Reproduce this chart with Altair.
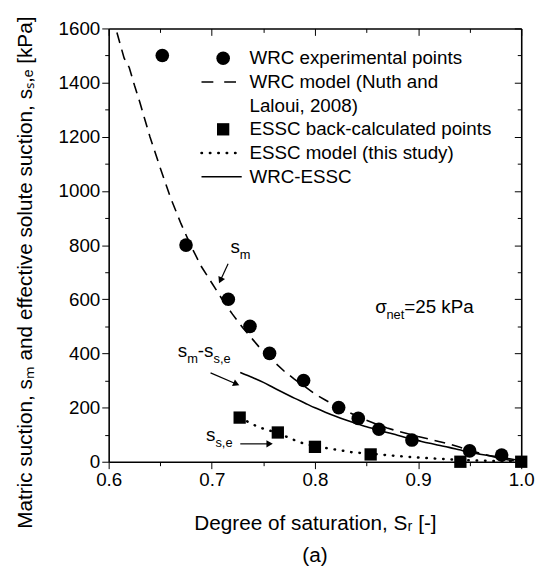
import math
import altair as alt
import pandas as pd

# ---------------- data ----------------
WRC_EXP_SR = [0.652, 0.675, 0.716, 0.737, 0.756, 0.789, 0.823, 0.842, 0.862, 0.894, 0.950, 0.981]
WRC_EXP_S = [1500, 800, 600, 500, 400, 300, 200, 160, 120, 80, 40, 25]

ESSC_PTS_SR = [0.727, 0.764, 0.800, 0.854, 0.941, 1.000]
ESSC_PTS_S = [163, 108, 55, 27, 0, 0]

WRC_MODEL_SR = [0.608, 0.615, 0.620, 0.625, 0.630, 0.635, 0.640, 0.650, 0.660, 0.670, 0.680,
                0.690, 0.700, 0.710, 0.720, 0.730, 0.740, 0.750, 0.760, 0.770, 0.780, 0.790,
                0.800, 0.810, 0.820, 0.830, 0.840, 0.850, 0.860, 0.870, 0.880, 0.890, 0.900,
                0.910, 0.920, 0.930, 0.940, 0.950, 0.960, 0.970, 0.980, 0.990, 1.000]
WRC_MODEL_S = [1585, 1490, 1455, 1390, 1330, 1265, 1200, 1085, 975, 880, 795,
               720, 660, 600, 545, 495, 450, 405, 370, 335, 305, 278,
               250, 228, 207, 188, 170, 153, 138, 125, 113, 103, 93,
               84, 75, 66, 54, 42, 31, 21, 12, 5, 0]

WRC_ESSC_SR = [0.7276, 0.740, 0.750, 0.760, 0.770, 0.780, 0.790, 0.800, 0.810, 0.820, 0.830,
               0.840, 0.850, 0.860, 0.870, 0.880, 0.890, 0.900, 0.910, 0.920, 0.930, 0.940,
               0.950, 0.960, 0.970, 0.980, 0.990, 1.000]
WRC_ESSC_S = [330, 310, 293, 273, 254, 235, 217, 199, 183, 168, 154,
              141, 129, 119, 108, 98, 87, 78, 69, 61, 53, 44,
              35, 28, 22, 17, 10, 4]

ESSC_MODEL_SR = [0.727, 0.745, 0.764, 0.785, 0.800, 0.815, 0.836, 0.865, 0.893, 0.919, 0.940, 0.970, 1.000]
ESSC_MODEL_S = [163, 128, 106, 72, 57, 48, 35, 26, 17, 11, 7, 3, 0]

LEGEND_LABELS = ["WRC experimental points", "WRC model (Nuth and", "Laloui, 2008)",
                 "ESSC back-calculated points", "ESSC model (this study)", "WRC-ESSC"]

X_TICKS_MAJOR = [0.6, 0.7, 0.8, 0.9, 1.0]
X_TICKS_MINOR = [0.65, 0.75, 0.85, 0.95]
Y_TICKS_MAJOR = [0, 200, 400, 600, 800, 1000, 1200, 1400, 1600]
Y_TICKS_MINOR = [100, 300, 500, 700, 900, 1100, 1300, 1500]

X_TITLE = "Degree of saturation, Sᵣ [-]"
Y_TITLE = "Matric suction, sₘ and effective solute suction, sₛ,ₑ [kPa]"
PANEL_LABEL = "(a)"

# annotation texts: anchor (Sr, s) and pieces (text, is_subscript)
ANNOTATIONS = [
    (0.718, 769, [("s", False), ("m", True)]),
    (0.667, 385, [("s", False), ("m", True), ("-s", False), ("s,e", True)]),
    (0.6944, 75, [("s", False), ("s,e", True)]),
    (0.8584, 550, [("σ", False), ("net", True), ("=25 kPa", False)]),
]
ARROWS = [((0.7158, 731), (0.7069, 658)),
          ((0.6988, 328), (0.7269, 282)),
          ((0.7276, 66), (0.7594, 66))]

# ---------------- layout / style ----------------
W, H = 418, 439
X_DOMAIN = [0.6, 1.0]
Y_DOMAIN = [0, 1600]
FONT = "Liberation Sans"
FS = 19
FS_SUB = 13
FS_TITLE = 21
PX_X = W / (X_DOMAIN[1] - X_DOMAIN[0])
PX_Y = H / (Y_DOMAIN[1] - Y_DOMAIN[0])

xs = alt.Scale(domain=X_DOMAIN, nice=False, zero=False)
ys = alt.Scale(domain=Y_DOMAIN, nice=False, zero=False)

EM = {'s': 0.5, 'm': 0.833, '-': 0.333, ',': 0.278, 'e': 0.556, 'n': 0.556, 't': 0.278,
      '=': 0.584, '2': 0.556, '5': 0.556, ' ': 0.278, 'k': 0.5, 'P': 0.667, 'a': 0.556, 'σ': 0.6}


def text_w(txt, size):
    return sum(EM.get(c, 0.55) for c in txt) * size


def X(field="x"):
    return alt.X(f"{field}:Q", scale=xs, axis=None)


def Y(field="y"):
    return alt.Y(f"{field}:Q", scale=ys, axis=None)


layers = []

# ---- axes (independent axis layers sharing the scales) ----
dummy = pd.DataFrame({"x": [X_DOMAIN[0]], "y": [Y_DOMAIN[0]]})
common = dict(grid=False, tickColor="black", tickWidth=1)
nodomain = dict(domain=False, **common)
frame = dict(domain=True, domainColor="black", domainWidth=1.6, ticks=False, labels=False,
             title=None, grid=False)


def axis_layer(ax, ay):
    return alt.Chart(dummy).mark_point(opacity=0).encode(
        x=alt.X("x:Q", scale=xs, axis=ax), y=alt.Y("y:Q", scale=ys, axis=ay))


bottom_major = alt.Axis(orient="bottom", values=X_TICKS_MAJOR, format=".1f", tickSize=7,
                        labelFont=FONT, labelFontSize=FS, labelColor="black", labelPadding=2,
                        labelFlush=False, labelOverlap=False,
                        title=X_TITLE, titleFont=FONT, titleFontSize=FS_TITLE,
                        titleFontWeight="normal", titleColor="black",
                        titleX=W / 2, titleY=69, titleBaseline="alphabetic", titleAlign="center",
                        **nodomain)
left_major = alt.Axis(orient="left", values=Y_TICKS_MAJOR, format="d", tickSize=7,
                      labelFont=FONT, labelFontSize=FS, labelColor="black", labelPadding=2,
                      labelOverlap=False, labelFlush=False,
                      title=Y_TITLE, titleFont=FONT, titleFontSize=FS_TITLE,
                      titleFontWeight="normal", titleColor="black", titleAngle=270,
                      titleX=-78, titleY=247, titleBaseline="alphabetic", titleAlign="center",
                      **nodomain)
bottom_minor = alt.Axis(orient="bottom", values=X_TICKS_MINOR, tickSize=4, labels=False,
                        title=None, **nodomain)
left_minor = alt.Axis(orient="left", values=Y_TICKS_MINOR, tickSize=4, labels=False,
                      title=None, **nodomain)
top_major = alt.Axis(orient="top", values=X_TICKS_MAJOR, tickSize=7, offset=-7, labels=False,
                     title=None, **nodomain)
right_major = alt.Axis(orient="right", values=Y_TICKS_MAJOR, tickSize=7, offset=-7, labels=False,
                       title=None, **nodomain)
top_minor = alt.Axis(orient="top", values=X_TICKS_MINOR, tickSize=4, offset=-4, labels=False,
                     title=None, **nodomain)
right_minor = alt.Axis(orient="right", values=Y_TICKS_MINOR, tickSize=4, offset=-4, labels=False,
                       title=None, **nodomain)
frame_bl = (alt.Axis(orient="bottom", **frame), alt.Axis(orient="left", **frame))
frame_tr = (alt.Axis(orient="top", **frame), alt.Axis(orient="right", **frame))

layers += [axis_layer(bottom_major, left_major), axis_layer(bottom_minor, left_minor),
           axis_layer(top_major, right_major), axis_layer(top_minor, right_minor),
           axis_layer(*frame_bl), axis_layer(*frame_tr)]

# ---- curves ----
wrc_model = pd.DataFrame({"x": WRC_MODEL_SR, "y": WRC_MODEL_S})
wrc_essc = pd.DataFrame({"x": WRC_ESSC_SR, "y": WRC_ESSC_S})
essc_model = pd.DataFrame({"x": ESSC_MODEL_SR, "y": ESSC_MODEL_S})

DASH = [11, 7]
DOT = [0.5, 8]
layers.append(alt.Chart(wrc_model).mark_line(color="black", strokeWidth=1.6, strokeDash=DASH)
              .encode(x=X(), y=Y()))
layers.append(alt.Chart(wrc_essc).mark_line(color="black", strokeWidth=1.6, interpolate="monotone")
              .encode(x=X(), y=Y()))
layers.append(alt.Chart(essc_model).mark_line(color="black", strokeWidth=2.5, strokeDash=DOT,
                                              strokeCap="round")
              .encode(x=X(), y=Y()))

# ---- points ----
wrc_exp = pd.DataFrame({"x": WRC_EXP_SR, "y": WRC_EXP_S})
essc_pts = pd.DataFrame({"x": ESSC_PTS_SR, "y": ESSC_PTS_S})
layers.append(alt.Chart(wrc_exp).mark_point(shape="circle", filled=True, size=190, color="black",
                                            opacity=1).encode(x=X(), y=Y()))
layers.append(alt.Chart(essc_pts).mark_point(shape="square", filled=True, size=155, color="black",
                                             opacity=1).encode(x=X(), y=Y()))

# ---- legend (drawn in data coordinates) ----
LEG_S0, LEG_STEP = 1490, 87.5
LEG_SYM_X, LEG_LINE_X0, LEG_LINE_X1, LEG_TEXT_X = 0.711, 0.690, 0.729, 0.7365
rows = [LEG_S0 - i * LEG_STEP for i in range(len(LEGEND_LABELS))]

leg_text = pd.DataFrame({"x": [LEG_TEXT_X] * len(LEGEND_LABELS), "y": rows, "t": LEGEND_LABELS})
layers.append(alt.Chart(leg_text).mark_text(align="left", baseline="middle", font=FONT,
                                            fontSize=FS, color="black")
              .encode(x=X(), y=Y(), text="t:N"))
layers.append(alt.Chart(pd.DataFrame({"x": [LEG_SYM_X], "y": [rows[0]]}))
              .mark_point(shape="circle", filled=True, size=190, color="black", opacity=1)
              .encode(x=X(), y=Y()))
layers.append(alt.Chart(pd.DataFrame({"x": [LEG_SYM_X], "y": [rows[3]]}))
              .mark_point(shape="square", filled=True, size=155, color="black", opacity=1)
              .encode(x=X(), y=Y()))
for r, dash, sw in [(rows[1], [12, 11], 1.6), (rows[4], DOT, 2.5), (rows[5], None, 1.6)]:
    kw = dict(color="black", strokeWidth=sw)
    if dash is not None:
        kw["strokeDash"] = dash
        kw["strokeCap"] = "round" if dash == DOT else "butt"
    layers.append(alt.Chart(pd.DataFrame({"x": [LEG_LINE_X0], "x2": [LEG_LINE_X1], "y": [r]}))
                  .mark_rule(**kw).encode(x=X(), x2="x2:Q", y=Y()))

# ---- annotation texts with subscripts ----
for sr, s, pieces in ANNOTATIONS:
    dx = 0.0
    for txt, sub in pieces:
        size = FS_SUB if sub else FS
        df = pd.DataFrame({"x": [sr], "y": [s], "t": [txt]})
        layers.append(alt.Chart(df).mark_text(align="left", baseline="alphabetic", font=FONT,
                                              fontSize=size, color="black", dx=dx,
                                              dy=6 if sub else 0)
                      .encode(x=X(), y=Y(), text="t:N"))
        dx += text_w(txt, size)

# ---- arrows ----
for (x0, y0), (x1, y1) in ARROWS:
    pdx = (x1 - x0) * PX_X
    pdy = -(y1 - y0) * PX_Y
    ang = math.degrees(math.atan2(pdy, pdx)) % 360
    L = math.hypot(pdx, pdy)
    back = 3.5
    hx = x1 - pdx / L * back / PX_X
    hy = y1 + pdy / L * back / PX_Y
    layers.append(alt.Chart(pd.DataFrame({"x": [x0], "y": [y0], "x2": [hx], "y2": [hy]}))
                  .mark_rule(color="black", strokeWidth=1.2)
                  .encode(x=X(), y=Y(), x2="x2:Q", y2="y2:Q"))
    layers.append(alt.Chart(pd.DataFrame({"x": [hx], "y": [hy]}))
                  .mark_point(shape="triangle-right", filled=True, size=55, color="black",
                              opacity=1, angle=ang)
                  .encode(x=X(), y=Y()))

chart = alt.layer(*layers).resolve_axis(x="independent", y="independent").properties(
    width=W, height=H,
    autosize=alt.AutoSizeParams(type="none"),
    padding={"left": 102, "top": 17, "right": 18, "bottom": 108},
    title=alt.TitleParams(text=PANEL_LABEL, orient="bottom", anchor="middle", font=FONT,
                          fontSize=FS_TITLE, fontWeight="normal", color="black", offset=12),
).configure_view(stroke=None)

chart.save("out.html", embed_options={"renderer": "svg", "actions": False})
